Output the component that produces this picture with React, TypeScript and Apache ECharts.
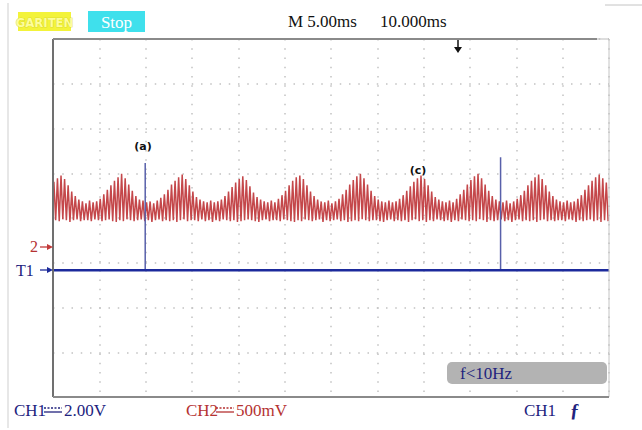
import { useEffect, useRef } from "react";
import * as echarts from "echarts";

// Time base: 12 divisions at 5 ms/div
const timeSpanMs = 60;
const timePerDivMs = 5;

// CH1 (2 V/div) and CH2 (500 mV/div) ground levels, in divisions from screen centre
const ch1VoltsPerDiv = 2;
const ch2VoltsPerDiv = 0.5;
const ch1GroundDiv = -1.17;
const ch2GroundDiv = -0.65;

// CH2 ripple: crest and valley of each carrier cycle (V)
const ch2Tops = [
  0.73, 0.77, 0.8, 0.76, 0.69, 0.62, 0.57, 0.53, 0.51, 0.49, 0.52, 0.5, 0.51, 0.54, 0.59, 0.64, 0.69, 0.74, 0.78,
  0.82, 0.77, 0.7, 0.63, 0.57, 0.53, 0.52, 0.5, 0.51, 0.49, 0.52, 0.55, 0.59, 0.64, 0.7, 0.74, 0.78,
  0.81, 0.76, 0.69, 0.62, 0.56, 0.53, 0.51, 0.5, 0.52, 0.5, 0.51, 0.53, 0.57, 0.62, 0.67, 0.72, 0.76,
  0.79, 0.75, 0.68, 0.61, 0.56, 0.53, 0.51, 0.5, 0.52, 0.5, 0.54, 0.58, 0.63, 0.69, 0.74, 0.78,
  0.8, 0.76, 0.69, 0.62, 0.57, 0.53, 0.51, 0.5, 0.52, 0.49, 0.51, 0.54, 0.59, 0.64, 0.7, 0.75, 0.79,
  0.82, 0.77, 0.7, 0.63, 0.57, 0.53, 0.51, 0.5, 0.52, 0.5, 0.51, 0.54, 0.58, 0.63, 0.68, 0.73, 0.77,
  0.8, 0.76, 0.69, 0.62, 0.56, 0.53, 0.51, 0.5, 0.52, 0.5, 0.54, 0.59, 0.64, 0.7, 0.75, 0.79,
  0.82, 0.77, 0.7, 0.63, 0.57, 0.53, 0.51, 0.5, 0.52, 0.49, 0.51, 0.54, 0.58, 0.63, 0.69, 0.74, 0.78,
  0.81, 0.76, 0.69, 0.62, 0.57, 0.53, 0.51, 0.5, 0.52, 0.5, 0.51, 0.54, 0.58, 0.64, 0.69, 0.74, 0.78,
  0.81, 0.77, 0.72,
];
const ch2Bottoms = [
  0.3, 0.29, 0.31, 0.3, 0.28, 0.3, 0.31, 0.29, 0.3, 0.3, 0.29, 0.31, 0.3,
  0.29, 0.3, 0.31, 0.29, 0.28, 0.3, 0.29, 0.31, 0.3, 0.29, 0.3, 0.31, 0.29,
  0.3, 0.28, 0.3, 0.31, 0.29, 0.3, 0.29, 0.3, 0.28, 0.3, 0.31, 0.29, 0.3,
  0.3, 0.29, 0.31, 0.29, 0.3, 0.28, 0.3, 0.29, 0.31, 0.3, 0.29, 0.3, 0.28,
  0.29, 0.3, 0.31, 0.3, 0.29, 0.28, 0.3, 0.31, 0.29, 0.3, 0.3, 0.29, 0.31,
  0.3, 0.29, 0.28, 0.3, 0.29, 0.31, 0.3, 0.29, 0.3, 0.31, 0.28, 0.3, 0.29,
  0.3, 0.31, 0.29, 0.3, 0.28, 0.29, 0.3, 0.29, 0.31, 0.3, 0.29, 0.3, 0.3,
  0.29, 0.28, 0.3, 0.31, 0.29, 0.3, 0.29, 0.3, 0.28, 0.3, 0.31, 0.29, 0.3,
  0.28, 0.3, 0.29, 0.31, 0.3, 0.29, 0.3, 0.28, 0.3, 0.29, 0.31, 0.3, 0.29,
  0.3, 0.29, 0.31, 0.3, 0.28, 0.3, 0.29, 0.3, 0.31, 0.29, 0.3, 0.28, 0.3,
  0.31, 0.29, 0.3, 0.29, 0.3, 0.28, 0.3, 0.31, 0.29, 0.3, 0.29, 0.3, 0.3,
  0.29, 0.31, 0.3, 0.28, 0.3, 0.29, 0.3, 0.31, 0.29, 0.3, 0.28, 0.3, 0.29,
];

// CH1: flat at 0 V with two narrow pulses
const ch1Level = 0;
const ch1PulseTimesMs = [9.95, 48.3];
const ch1PulsePeaksV = [4.8, 5.05];

// Readout texts
const timebaseText = "M 5.00ms";
const delayText = "10.000ms";
const ch1ScaleText = "2.00V";
const ch2ScaleText = "500mV";
const triggerFreqText = "f<10Hz";

const NAVY = "#22237e";
const RED = "#b53232";
const SERIF = '"Liberation Serif", "DejaVu Serif", serif';

function buildOption() {
  const step = timeSpanMs / ch2Tops.length;
  const ch2Data: number[][] = [];
  ch2Tops.forEach((top, i) => {
    ch2Data.push([(i + 0.25) * step, top]);
    ch2Data.push([(i + 0.75) * step, ch2Bottoms[i]]);
  });

  const pulseSeries = ch1PulseTimesMs.map((t, i) => ({
    type: "line",
    yAxisIndex: 1,
    symbol: "none",
    silent: true,
    z: 4,
    lineStyle: { color: "#5860aa", width: 1.5 },
    data: [
      [t, ch1Level],
      [t, ch1PulsePeaksV[i]],
    ],
  }));

  const gl = 53,
    gt = 39,
    gw = 556,
    gh = 358;

  const txt = (
    x: number,
    y: number,
    text: string,
    fill: string,
    fontSize = 16,
    extra: Record<string, unknown> = {}
  ) => ({
    type: "text",
    x,
    y,
    z: 20,
    silent: true,
    style: {
      text,
      fill,
      fontSize,
      fontFamily: SERIF,
      verticalAlign: "middle",
      ...extra,
    },
  });

  const arrow = (y: number, color: string) => [
    { type: "line", z: 20, shape: { x1: 40, y1: y, x2: 49, y2: y }, style: { stroke: color, lineWidth: 1.3 } },
    {
      type: "polygon",
      z: 20,
      shape: { points: [[47, y - 3], [53, y], [47, y + 3]] },
      style: { fill: color },
    },
  ];

  const dcSymbol = (x: number, y: number, color: string) => [
    { type: "line", z: 20, shape: { x1: x, y1: y - 2, x2: x + 18, y2: y - 2 }, style: { stroke: color, lineWidth: 1.3, lineDash: [2, 1.5] } },
    { type: "line", z: 20, shape: { x1: x, y1: y + 2, x2: x + 18, y2: y + 2 }, style: { stroke: color, lineWidth: 1.3 } },
  ];

  const graphic: any[] = [
    // page edges
    { type: "line", shape: { x1: 8, y1: 3, x2: 8, y2: 428 }, style: { stroke: "#cfcfcf", lineWidth: 1 } },
    { type: "line", shape: { x1: 605, y1: 5, x2: 642, y2: 5 }, style: { stroke: "#c4c4c4", lineWidth: 1 } },
    // logo + run state
    { type: "rect", shape: { x: 18, y: 12, width: 53, height: 19 }, style: { fill: "#f3f33a" } },
    txt(44.5, 22, "GARITEN", "#fdfd9a", 13, {
      align: "center",
      fontFamily: '"DejaVu Sans Condensed", "Liberation Sans", sans-serif',
      fontWeight: "bold",
      stroke: "#c9c92a",
      lineWidth: 0.6,
    }),
    { type: "rect", shape: { x: 88, y: 11, width: 57, height: 21 }, style: { fill: "#3fe0ec" } },
    txt(116.5, 22, "Stop", "#ffffff", 17, { align: "center" }),
    txt(288, 21, timebaseText, "#111111", 17),
    txt(380, 21, delayText, "#111111", 17),
    // trigger position marker
    { type: "line", z: 20, shape: { x1: 458, y1: 40, x2: 458, y2: 48 }, style: { stroke: "#111", lineWidth: 1.5 } },
    { type: "polygon", z: 20, shape: { points: [[454, 47], [462, 47], [458, 53]] }, style: { fill: "#111" } },
    // screen frame
    { type: "line", z: 10, shape: { x1: gl, y1: gt, x2: gl, y2: gt + gh }, style: { stroke: "#707070", lineWidth: 2 } },
    { type: "line", z: 10, shape: { x1: gl, y1: gt, x2: 597, y2: gt }, style: { stroke: "#8a8a8a", lineWidth: 2 } },
    { type: "line", z: 10, shape: { x1: 597, y1: gt, x2: gl + gw, y2: gt }, style: { stroke: "#bbbbbb", lineWidth: 1 } },
    { type: "line", z: 10, shape: { x1: gl + gw, y1: gt, x2: gl + gw, y2: gt + gh }, style: { stroke: "#c4c4c4", lineWidth: 1 } },
    { type: "line", z: 10, shape: { x1: gl, y1: gt + gh, x2: gl + gw, y2: gt + gh }, style: { stroke: "#8a8a8a", lineWidth: 2 } },
    // channel ground markers
    txt(30, 246, "2", RED, 16),
    ...arrow(247, "#c23a3a"),
    txt(16, 270, "T1", NAVY, 16),
    ...arrow(270, "#1c2a9a"),
    // annotations
    txt(143, 146, "(a)", "#111", 11, { align: "center", fontFamily: '"DejaVu Sans", sans-serif', fontWeight: "bold" }),
    txt(418, 170, "(c)", "#111", 11, { align: "center", fontFamily: '"DejaVu Sans", sans-serif', fontWeight: "bold" }),
    // trigger frequency readout
    { type: "rect", z: 15, shape: { x: 447, y: 362, width: 160, height: 22, r: 5 }, style: { fill: "#b3b3b3" } },
    txt(460, 373, triggerFreqText, NAVY, 17),
    // bottom status line
    txt(14, 410, "CH1", NAVY, 17),
    ...dcSymbol(44, 410, NAVY),
    txt(64, 410, ch1ScaleText, NAVY, 17),
    txt(186, 410, "CH2", RED, 17),
    ...dcSymbol(216, 410, RED),
    txt(236, 410, ch2ScaleText, RED, 17),
    txt(524, 410, "CH1", NAVY, 17),
    txt(570, 410, "ƒ", NAVY, 19, { fontWeight: "bold" }),
  ];

  const dots = { color: "#c2c2c2", width: 1.5, type: [1.5, 7.75] };

  return {
    animation: false,
    backgroundColor: "#ffffff",
    grid: { left: gl, top: gt, width: gw, height: gh, show: false },
    xAxis: {
      type: "value",
      min: 0,
      max: timeSpanMs,
      interval: timePerDivMs,
      axisLine: { show: false },
      axisTick: { show: false },
      axisLabel: { show: false },
      splitLine: { show: true, lineStyle: dots },
    },
    yAxis: [
      {
        type: "value",
        min: -4,
        max: 4,
        interval: 1,
        axisLine: { show: false },
        axisTick: { show: false },
        axisLabel: { show: false },
        splitLine: { show: true, lineStyle: dots },
      },
      {
        type: "value",
        show: false,
        min: (-4 - ch1GroundDiv) * ch1VoltsPerDiv,
        max: (4 - ch1GroundDiv) * ch1VoltsPerDiv,
        splitLine: { show: false },
      },
      {
        type: "value",
        show: false,
        min: (-4 - ch2GroundDiv) * ch2VoltsPerDiv,
        max: (4 - ch2GroundDiv) * ch2VoltsPerDiv,
        splitLine: { show: false },
      },
    ],
    series: [
      {
        type: "line",
        yAxisIndex: 2,
        symbol: "none",
        silent: true,
        z: 3,
        lineStyle: { color: "#c4474a", width: 1.5 },
        data: ch2Data,
      },
      {
        type: "line",
        yAxisIndex: 1,
        symbol: "none",
        silent: true,
        z: 5,
        lineStyle: { color: "#1c2a9c", width: 2.5 },
        data: [
          [0, ch1Level],
          [timeSpanMs, ch1Level],
        ],
      },
      ...pulseSeries,
    ],
    graphic,
  };
}

export default function App() {
  const ref = useRef<HTMLDivElement>(null);
  useEffect(() => {
    if (!ref.current) return;
    const chart = echarts.init(ref.current, undefined, { renderer: "svg" });
    chart.setOption(buildOption() as any);
    return () => chart.dispose();
  }, []);
  return (
    <div
      ref={ref}
      style={{ position: "fixed", left: 0, top: 0, width: 642, height: 430, background: "#fff" }}
    />
  );
}
